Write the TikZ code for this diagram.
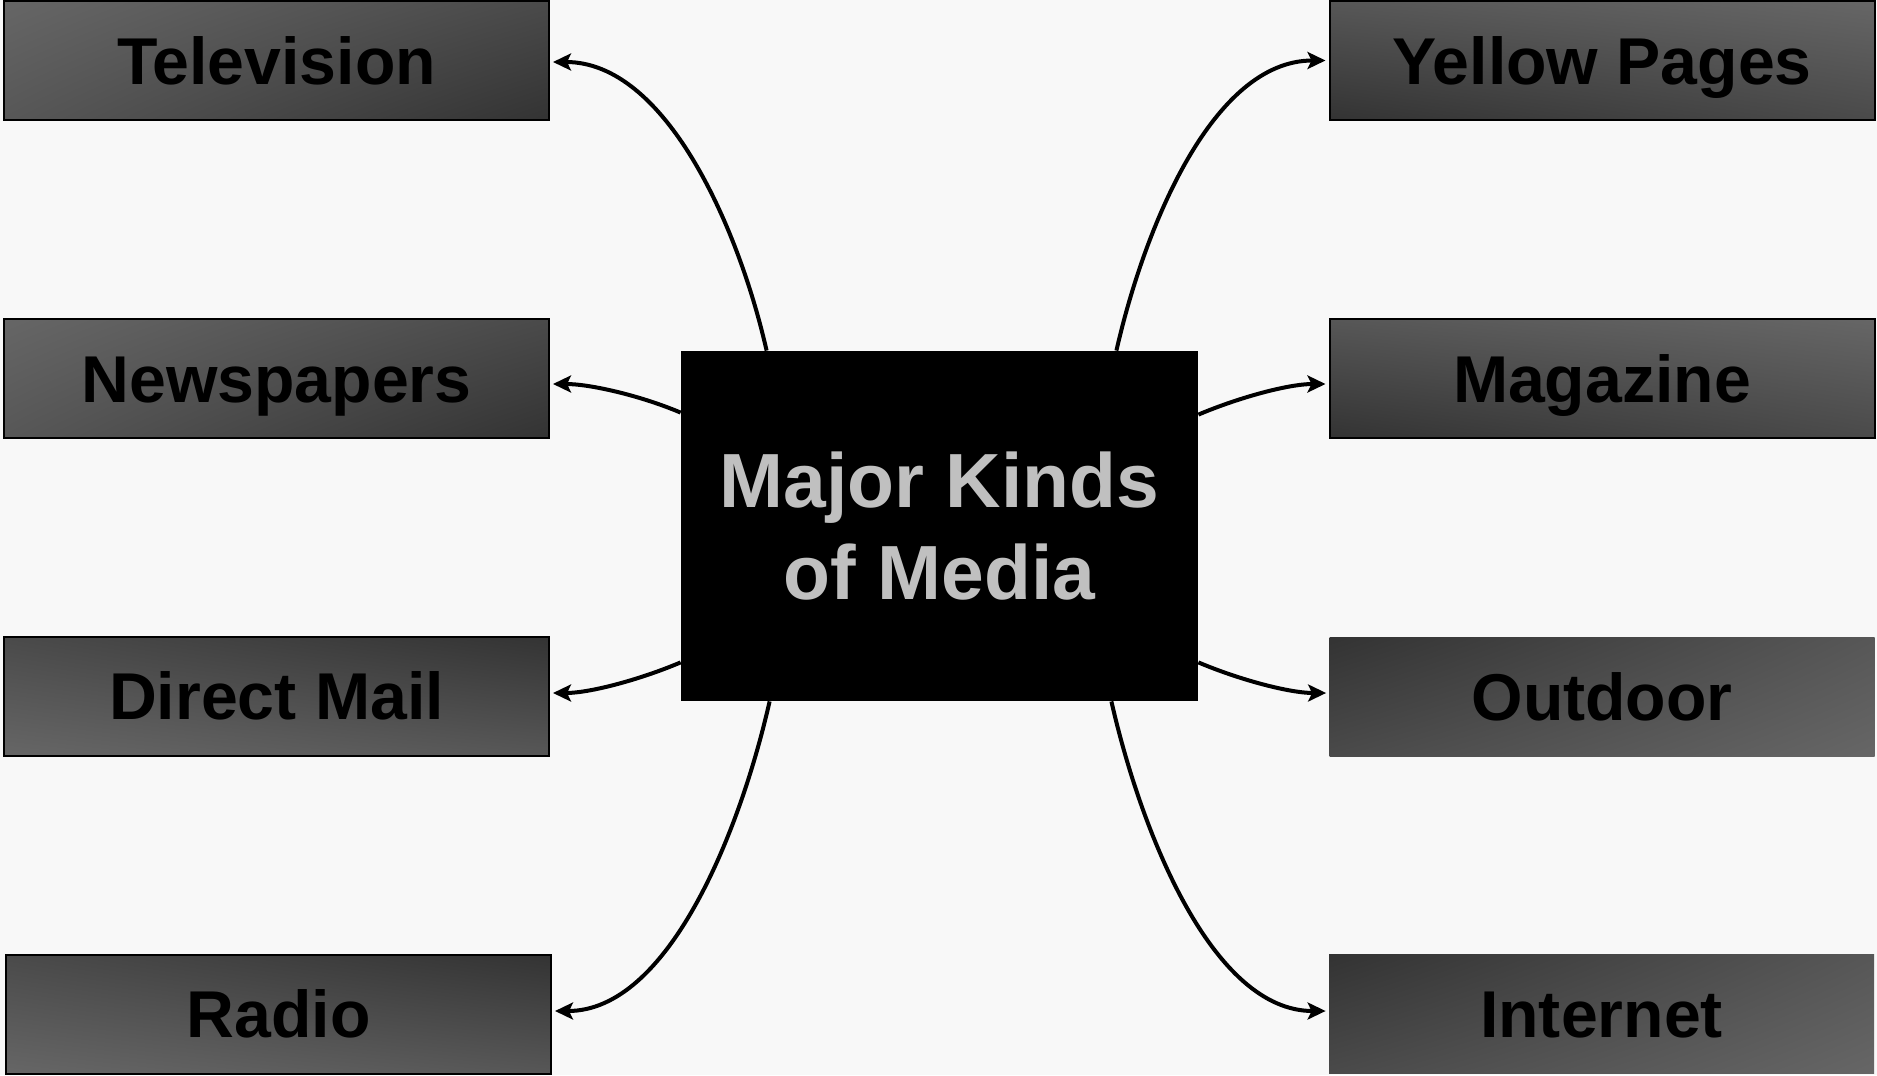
\documentclass[tikz,border=0pt]{standalone}
\usepackage{fontspec}
\setmainfont{Liberation Sans}
\usetikzlibrary{arrows.meta,shadings}
\definecolor{bg}{HTML}{F8F8F8}
\definecolor{gA}{HTML}{666666}
\definecolor{gB}{HTML}{575757}
\definecolor{gC}{HTML}{4A4A4A}
\definecolor{gD}{HTML}{333333}
\definecolor{ctext}{HTML}{C0C0C0}
\begin{document}
\begin{tikzpicture}[x=0.5pt,y=-0.5pt,
  media/.style={minimum width=272.5pt, minimum height=59.5pt, inner sep=0pt,
    font=\fontsize{33.1}{39}\selectfont\bfseries, text=black,
    text height=23.7pt, text depth=0pt},
  bordered/.style={draw=black, line width=1pt},
  lightTL/.style={upper left=gA, upper right=gC, lower left=gB, lower right=gD},
  lightBL/.style={upper left=gC, upper right=gD, lower left=gA, lower right=gB},
  lightTR/.style={upper left=gB, upper right=gA, lower left=gD, lower right=gC},
  lightBR/.style={upper left=gD, upper right=gB, lower left=gC, lower right=gA},
  hubbox/.style={fill=black, minimum width=258.5pt, minimum height=175pt, inner sep=0pt,
    align=center, font=\fontsize{38.4}{46}\selectfont\bfseries, text=ctext},
  conn/.style={line width=2pt, -{Stealth[length=9pt,width=8.5pt,inset=2pt]}, shorten >=1.5pt}
]
\fill[bg] (0,0) rectangle (1877,1075);
\useasboundingbox (0,0) rectangle (1877,1075);

\node[media, bordered, lightTL] (tv) at (276.5,60.5) {Television};
\node[media, bordered, lightTL] (news) at (276.5,378.5) {Newspapers};
\node[media, bordered, lightBL] (mail) at (276.5,696) {Direct Mail};
\node[media, bordered, lightBL] (radio) at (278.5,1014) {Radio};

\node[media, bordered, lightTR] (yp) at (1602,60.5) {Yellow Pages};
\node[media, bordered, lightTR] (mag) at (1602,378.5) {Magazine};
\node[media, lightBR] (out) at (1602,696.5) {Outdoor};
\node[media, lightBR] (net) at (1601.5,1014) {Internet};

\node[hubbox] (hub) at (939.5,526) {Major Kinds\\of Media};

\draw[conn] ([xshift=43pt]hub.north west) .. controls +(-28,-123) and +(116,0) .. ([yshift=-0.75pt]tv.east);
\draw[conn] ([yshift=-31pt]hub.north west) .. controls +(-40,-17) and +(40,0) .. ([yshift=-2.75pt]news.east);
\draw[conn] ([yshift=19.5pt]hub.south west) .. controls +(-40,17) and +(40,0) .. ([yshift=1.5pt]mail.east);
\draw[conn] ([xshift=44.5pt]hub.south west) .. controls +(-30,132) and +(116,0) .. ([yshift=1.5pt]radio.east);

\draw[conn] ([xshift=-41pt]hub.north east) .. controls +(28,-123) and +(-116,0) .. (yp.west);
\draw[conn] ([yshift=-32pt]hub.north east) .. controls +(40,-17) and +(-40,0) .. ([yshift=-2.75pt]mag.west);
\draw[conn] ([yshift=19.5pt]hub.south east) .. controls +(40,17) and +(-40,0) .. ([yshift=1.75pt]out.west);
\draw[conn] ([xshift=-43.5pt]hub.south east) .. controls +(30,132) and +(-116,0) .. ([yshift=1.5pt]net.west);
\end{tikzpicture}
\end{document}
